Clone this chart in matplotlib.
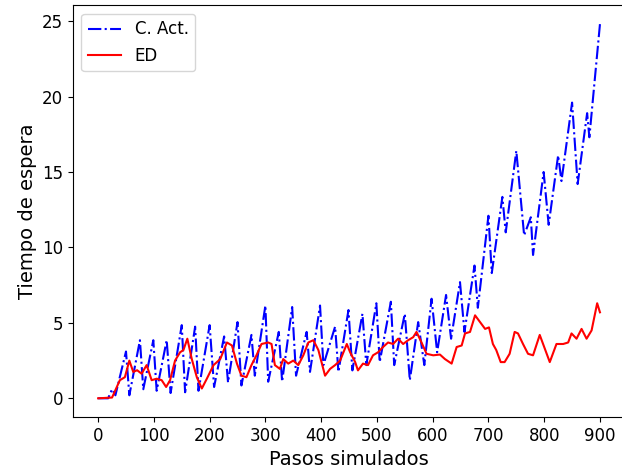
import matplotlib
matplotlib.use("Agg")
import matplotlib.pyplot as plt

# C. Act. (fixed cycle) - peaks and troughs
act_steps = [0, 18, 25, 31, 50, 56, 75, 81, 99, 105, 123, 130, 150, 156, 174, 180,
             200, 208, 226, 233, 250, 257, 275, 281, 300, 305, 324, 330, 348, 355,
             374, 380, 398, 404, 425, 431, 449, 456, 474, 481, 499, 505, 525, 531,
             550, 559, 574, 585, 598, 608, 624, 633, 649, 657, 675, 681, 700, 706,
             725, 731, 750, 764, 776, 780, 799, 808, 825, 831, 850, 860, 877, 881, 900]
act_wait = [0, 0, 0.6, 0.2, 3.1, 0.2, 3.85, 0.6, 3.85, 0.5, 3.85, 0.35, 4.85, 0.4,
            4.75, 0.5, 4.85, 0.75, 4.1, 1.05, 5.05, 0.85, 4.2, 1.5, 6.15, 1.1, 4.4,
            1.1, 6.05, 1.5, 4.4, 1.75, 6.15, 2.2, 4.75, 1.75, 5.85, 1.85, 5.6, 2.2,
            6.3, 2.4, 6.4, 2.2, 5.6, 1.2, 5.05, 2.2, 6.6, 3.05, 6.85, 3.95, 7.7, 4.4,
            8.8, 6.0, 12.1, 8.3, 13.35, 11.0, 16.4, 10.8, 12.0, 9.5, 15.0, 11.5,
            16.1, 14.4, 19.6, 14.2, 18.9, 17.3, 24.8]

# ED
ed_steps = [0, 25, 39, 48, 56, 63, 70, 78, 87, 96, 105, 114, 122, 129, 138, 147, 153,
            160, 168, 177, 186, 195, 207, 219, 231, 240, 249, 257, 266, 275, 284, 293,
            305, 311, 317, 326, 332, 341, 350, 359, 368, 377, 386, 395, 407, 416, 425,
            434, 446, 452, 461, 466, 475, 484, 493, 502, 511, 520, 529, 538, 547, 556,
            565, 571, 580, 589, 601, 613, 622, 634, 643, 652, 658, 667, 676, 685, 694,
            701, 708, 714, 722, 729, 738, 747, 753, 762, 771, 780, 792, 801, 810, 822,
            834, 843, 849, 858, 867, 876, 885, 895, 900]
ed_wait = [0, 0.05, 1.2, 1.4, 2.5, 1.75, 1.86, 1.63, 2.2, 1.2, 1.3, 1.2, 0.75, 1.2,
           2.5, 3.05, 3.2, 3.95, 2.6, 1.4, 0.65, 1.3, 2.2, 2.6, 3.7, 3.5, 2.3, 1.5, 1.4,
           2.2, 2.85, 3.6, 3.7, 3.6, 2.2, 1.95, 2.6, 2.3, 2.5, 2.2, 2.85, 3.7, 3.85,
           3.2, 1.5, 1.95, 2.2, 2.5, 3.6, 3.05, 2.4, 1.85, 2.3, 2.2, 2.85, 3.05, 3.4,
           3.7, 3.6, 3.95, 3.6, 3.85, 4.05, 4.4, 3.7, 2.95, 2.85, 2.9, 2.6, 2.3, 3.4,
           3.5, 4.3, 4.4, 5.5, 5.05, 4.6, 4.7, 3.6, 3.2, 2.4, 2.4, 2.95, 4.4, 4.3, 3.6,
           2.95, 2.85, 4.2, 3.3, 2.4, 3.6, 3.6, 3.7, 4.3, 3.95, 4.6, 3.95, 4.5, 6.3, 5.7]

fig = plt.figure(figsize=(6.22, 4.72), dpi=100)
ax = fig.add_axes([0.1174, 0.1165, 0.8875, 0.872])

ax.plot(act_steps, act_wait, 'b-.', linewidth=1.5, label='C. Act.')
ax.plot(ed_steps, ed_wait, 'r-', linewidth=1.5, label='ED')

ax.set_xticks(range(0, 901, 100))
ax.set_yticks([0, 5, 10, 15, 20, 25])
ax.tick_params(labelsize=12)
ax.set_xlabel('Pasos simulados', fontsize=14)
ax.set_ylabel('Tiempo de espera', fontsize=14)
ax.legend(loc='upper left', fontsize=12)

fig.savefig('out.png', dpi=100)
